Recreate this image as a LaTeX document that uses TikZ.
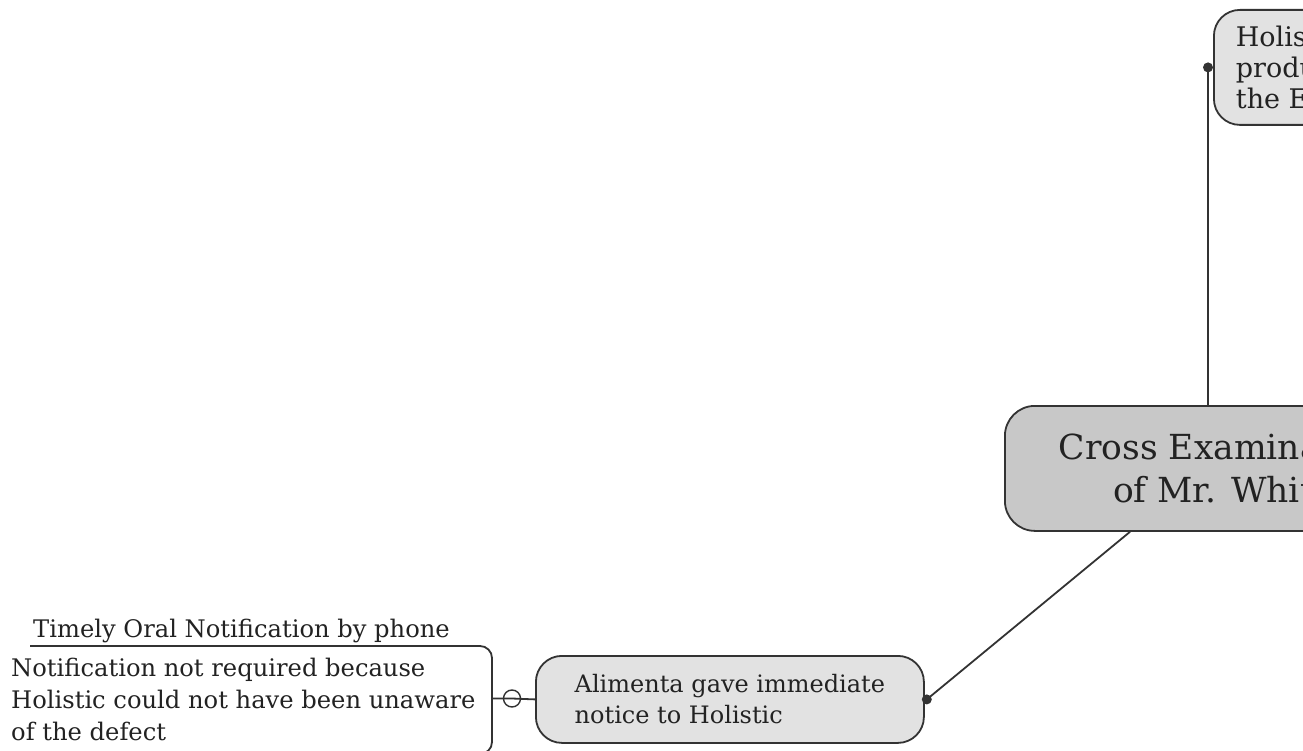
\documentclass[tikz,border=0pt]{standalone}
\usepackage{fontspec}
\setmainfont{DejaVu Serif}
\usetikzlibrary{calc}
\definecolor{ink}{HTML}{222222}
\definecolor{edge}{HTML}{333333}
\definecolor{cfill}{HTML}{C8C8C8}
\definecolor{lfill}{HTML}{E2E2E2}
\tikzset{
  ln/.style={draw=edge, line width=1.8pt},
  txt/.style={text=ink, font=\fontsize{24.2}{32}\selectfont},
  subbox/.style={ln, text=ink, fill=lfill, rounded corners=26pt, align=left},
  mainbox/.style={ln, text=ink, fill=cfill, rounded corners=30pt, align=center,
    font=\fontsize{34.5}{43}\selectfont},
  dotmark/.style={fill=edge}
}
\begin{document}
\begin{tikzpicture}[x=1pt,y=-1pt]
\useasboundingbox (0,0) rectangle (1303,751);
\clip (0,0) rectangle (1303,751);
% central node
\node[mainbox, anchor=north west, inner xsep=54pt, inner ysep=0pt, minimum height=125pt]
  (cx) at (1004,405) {Cross Examination\\of Mr. White};
% top node
\node[subbox, font=\fontsize{27}{31}\selectfont, anchor=north west, inner xsep=22pt, inner ysep=0pt, minimum height=115pt]
  (top) at (1213,9) {Holistic knew of the\\product defect before\\the Email was sent};
% Alimenta node
\node[subbox, font=\fontsize{24}{31}\selectfont, anchor=north west, minimum width=388pt, minimum height=87pt, inner ysep=0pt]
  (ali) at (535,655) {Alimenta gave immediate\\notice to Holistic};
% left text
\node[txt, anchor=base west, inner sep=0pt] (timely) at (33,637) {Timely Oral Notification by phone};
\node[txt, anchor=north west, align=left, inner sep=0pt] (notreq) at (11,658)
  {Notification not required because\\Holistic could not have been unaware\\of the defect};
% bracket of left box
\draw[ln, rounded corners=12pt] (30,646) -- (492,646) -- (492,754) -- (30,754);
\coordinate (brR) at (492,698.5);
% negation circle
\node[circle, draw=edge, line width=1.4pt, minimum size=17pt, inner sep=0pt] (neg) at (512,698.5) {};
\draw[ln] (brR) -- (neg.center) -- (ali.west);
% connectors
\coordinate (ad) at ($(ali.east)+(2,0)$);
\draw[ln] (ad) -- ($(cx.south west)+(126,0)$);
\fill[dotmark] (ad) circle (5pt);
\coordinate (td) at ($(top.west)+(-5,0)$);
\draw[ln] (td) -- (td |- cx.north);
\fill[dotmark] (td) circle (5pt);
\end{tikzpicture}
\end{document}
